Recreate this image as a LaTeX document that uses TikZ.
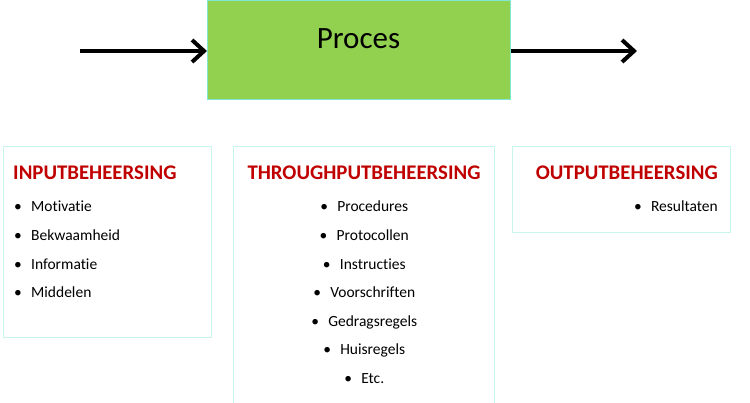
\documentclass[tikz,border=0pt]{standalone}
\usepackage{fontspec}
\setmainfont{Carlito}[Ligatures={NoCommon,NoRare,NoDiscretionary}]
\usetikzlibrary{arrows.meta}
\definecolor{procgreen}{HTML}{92D050}
\definecolor{procedge}{HTML}{7FE8D0}
\definecolor{boxedge}{HTML}{C8F6EC}
\definecolor{titlered}{HTML}{C00000}
\tikzset{
  panel/.style={draw=boxedge, line width=0.9pt, fill=white},
  heading/.style={inner sep=0pt, text=titlered, font=\fontsize{20.8}{24}\selectfont\bfseries},
  item/.style={inner sep=0pt, font=\fontsize{15.5}{18}\selectfont},
  flow/.style={line width=4pt, -{Straight Barb[length=12pt, width=22pt, line width=4pt]}},
}
\newcommand{\bul}{\makebox[17.5pt][l]{\hspace{0.5pt}•}}
\begin{document}
\begin{tikzpicture}[x=1pt, y=-1pt]
\useasboundingbox (0,0) rectangle (750,402);
% process box
\node[draw=procedge, fill=procgreen, line width=0.9pt, minimum width=303pt, minimum height=99pt, inner sep=0pt, anchor=north west] (proc) at (207,0) {};
\node[inner sep=0pt, anchor=base, font=\fontsize{31}{36}\selectfont] (proclbl) at (358.5,48) {Proces};
\coordinate (inl) at (80,51);
\coordinate (outr) at (637,51);
\draw[flow] (inl) -- (proc.west |- inl);
\draw[flow] (proc.east |- outr) -- (outr);
% panels
\draw[panel] (3,146) rectangle (211,337);
\draw[panel] (233,146) -- (233,405) (494,405) -- (494,146) -- (233,146);
\draw[panel] (512,146) rectangle (730,232);
% input
\node[heading, anchor=base west] (h1) at (13,179) {INPUTBEHEERSING};
\node[item, anchor=base west] (i1) at (13.5,211) {\bul Motivatie};
\node[item, anchor=base west] (i2) at (13.5,240) {\bul Bekwaamheid};
\node[item, anchor=base west] (i3) at (13.5,269) {\bul Informatie};
\node[item, anchor=base west] (i4) at (13.5,297) {\bul Middelen};
% throughput
\node[heading, anchor=base] (h2) at (364,179) {THROUGHPUTBEHEERSING};
\node[item, anchor=base] (t1) at (364,211) {\bul Procedures};
\node[item, anchor=base] (t2) at (364,240) {\bul Protocollen};
\node[item, anchor=base] (t3) at (364,269) {\bul Instructies};
\node[item, anchor=base] (t4) at (364,297) {\bul Voorschriften};
\node[item, anchor=base] (t5) at (364,326) {\bul Gedragsregels};
\node[item, anchor=base] (t6) at (364,354) {\bul Huisregels};
\node[item, anchor=base] (t7) at (364,383) {\bul Etc.};
% output
\node[heading, anchor=base east] (h3) at (718,179) {OUTPUTBEHEERSING};
\node[item, anchor=base east] (o1) at (718,211) {\bul Resultaten};
\end{tikzpicture}
\end{document}
